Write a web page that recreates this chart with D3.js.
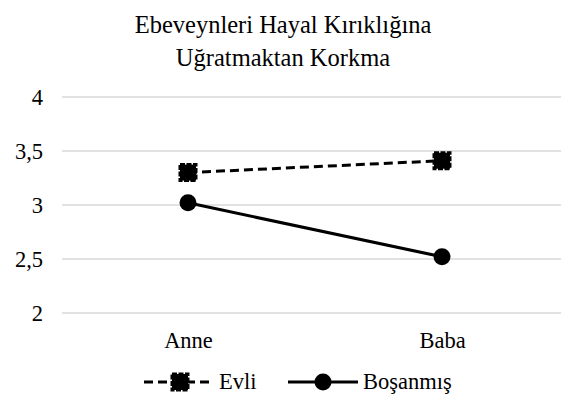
<!DOCTYPE html>
<html>
<head>
    <meta charset="utf-8">
    <title>Ebeveynleri Hayal Kırıklığına Uğratmaktan Korkma</title>
    <style>
        body { margin: 0; background: #fff; }
        svg { display: block; font-family: "Liberation Serif", "Times New Roman", serif; }
        svg text { font-family: "Liberation Serif", "Times New Roman", serif; }
    </style>
    <script src="https://cdnjs.cloudflare.com/ajax/libs/d3/7.8.5/d3.min.js"></script>
</head>
<body>
    <script>
        const categories = ["Anne", "Baba"]
        const evli = [3.30, 3.41]
        const bosanmis = [3.02, 2.52]
        const yTicks = [2, 2.5, 3, 3.5, 4]
        const titleLines = ["Ebeveynleri Hayal Kırıklığına", "Uğratmaktan Korkma"]

        const width = 561
        const height = 412
        const fs = 22.5

        let svg = d3.select("body").append("svg")
            .attr("width", width)
            .attr("height", height)

        let x_scale = d3.scalePoint()
            .domain(categories)
            .range([188, 442])
        let y_scale = d3.scaleLinear()
            .domain([2, 4])
            .range([313, 97])

        // title
        svg.selectAll(".title")
            .data(titleLines)
            .enter()
            .append("text")
                .attr("class", "title")
                .attr("x", 283)
                .attr("y", (d, i) => 33 + i * 33)
                .attr("text-anchor", "middle")
                .attr("font-size", 24.5)
                .attr("fill", "#000")
                .text(d => d)

        // grid
        svg.selectAll(".grid")
            .data(yTicks)
            .enter()
            .append("line")
                .attr("class", "grid")
                .attr("x1", 62)
                .attr("x2", width)
                .attr("y1", d => y_scale(d))
                .attr("y2", d => y_scale(d))
                .attr("stroke", "#d9d9d9")
                .attr("stroke-width", 1.5)

        // y axis labels
        let y_axis = svg.append("g")
            .attr("transform", "translate(43,0)")
            .call(d3.axisLeft(y_scale).tickValues(yTicks).tickSize(0).tickPadding(0)
                .tickFormat(d => String(d).replace(".", ",")))
        y_axis.select(".domain").remove()
        y_axis.selectAll("text")
            .attr("font-size", fs)
            .attr("fill", "#000")

        // x axis labels
        let x_axis = svg.append("g")
            .attr("transform", "translate(0,332)")
            .call(d3.axisBottom(x_scale).tickSize(0).tickPadding(0))
        x_axis.select(".domain").remove()
        x_axis.selectAll("text")
            .attr("font-size", fs)
            .attr("fill", "#000")

        let line = d3.line()
            .x((d, i) => x_scale(categories[i]))
            .y(d => y_scale(d))

        // Evli
        svg.append("path")
            .attr("d", line(evli))
            .attr("fill", "none")
            .attr("stroke", "#000")
            .attr("stroke-width", 3)
            .attr("stroke-dasharray", "9,5")
        svg.selectAll(".sq")
            .data(evli)
            .enter()
            .append("rect")
                .attr("class", "sq")
                .attr("x", (d, i) => x_scale(categories[i]) - 8)
                .attr("y", d => y_scale(d) - 8)
                .attr("width", 16)
                .attr("height", 16)
                .attr("fill", "#000")
                .attr("stroke", "#000")
                .attr("stroke-width", 3)
                .attr("stroke-dasharray", "5,1.5")

        // Boşanmış
        svg.append("path")
            .attr("d", line(bosanmis))
            .attr("fill", "none")
            .attr("stroke", "#000")
            .attr("stroke-width", 3)
        svg.selectAll(".dot")
            .data(bosanmis)
            .enter()
            .append("circle")
                .attr("class", "dot")
                .attr("cx", (d, i) => x_scale(categories[i]))
                .attr("cy", d => y_scale(d))
                .attr("r", 8.5)
                .attr("fill", "#000")

        // legend
        let ly = 382
        let lg = svg.append("g")
        lg.append("line")
            .attr("x1", 144).attr("x2", 214).attr("y1", ly).attr("y2", ly)
            .attr("stroke", "#000").attr("stroke-width", 3).attr("stroke-dasharray", "9,5")
        lg.append("rect")
            .attr("x", 172).attr("y", ly - 8).attr("width", 16).attr("height", 16)
            .attr("fill", "#000").attr("stroke", "#000").attr("stroke-width", 3)
            .attr("stroke-dasharray", "5,1.5")
        lg.append("text")
            .attr("x", 219).attr("y", ly + 7)
            .attr("font-size", fs).text("Evli")
        lg.append("line")
            .attr("x1", 288).attr("x2", 358).attr("y1", ly).attr("y2", ly)
            .attr("stroke", "#000").attr("stroke-width", 3)
        lg.append("circle")
            .attr("cx", 323).attr("cy", ly).attr("r", 8.5).attr("fill", "#000")
        lg.append("text")
            .attr("x", 363).attr("y", ly + 7)
            .attr("font-size", fs).text("Boşanmış")
    </script>
</body>
</html>
